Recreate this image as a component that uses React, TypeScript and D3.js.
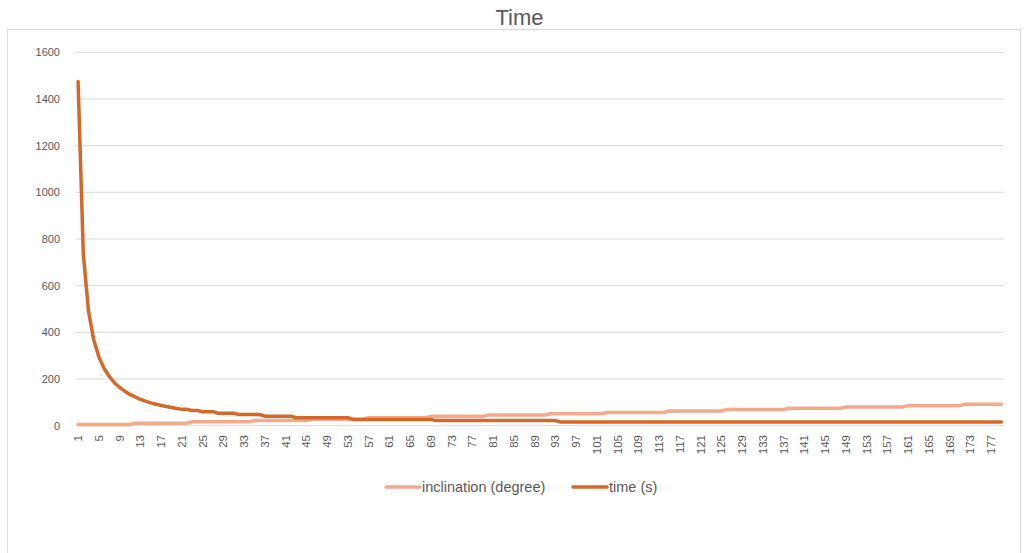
import React from 'react';
import * as d3 from 'd3';

const categories: number[] = d3.range(1, 180);

const inclination: number[] = [
  5, 5, 5, 5, 5, 5, 5, 5, 5, 5, 5,
  11, 11, 11, 11, 11, 11, 11, 11, 11, 11, 11,
  17, 17, 17, 17, 17, 17, 17, 17, 17, 17, 17, 17,
  22, 22, 22, 22, 22, 22, 22, 22, 22, 22, 22,
  28, 28, 28, 28, 28, 28, 28, 28, 28, 28, 28,
  34, 34, 34, 34, 34, 34, 34, 34, 34, 34, 34, 34,
  40, 40, 40, 40, 40, 40, 40, 40, 40, 40, 40,
  46, 46, 46, 46, 46, 46, 46, 46, 46, 46, 46, 46,
  51, 51, 51, 51, 51, 51, 51, 51, 51, 51, 51,
  57, 57, 57, 57, 57, 57, 57, 57, 57, 57, 57, 57,
  63, 63, 63, 63, 63, 63, 63, 63, 63, 63, 63,
  69, 69, 69, 69, 69, 69, 69, 69, 69, 69, 69, 69,
  75, 75, 75, 75, 75, 75, 75, 75, 75, 75, 75,
  80, 80, 80, 80, 80, 80, 80, 80, 80, 80, 80, 80,
  86, 86, 86, 86, 86, 86, 86, 86, 86, 86, 86,
  92, 92, 92, 92, 92, 92, 92, 92,
];

const time: number[] = [
  1475, 738, 492, 369, 295, 246, 211, 184, 164, 148,
  134, 123, 113, 105, 98, 92, 87, 82, 78, 74,
  70, 70, 65, 65, 60, 60, 60, 53, 53, 53, 53,
  48, 48, 48, 48, 48,
  41, 41, 41, 41, 41, 41,
  34, 34, 34, 34, 34, 34, 34, 34, 34, 34, 34,
  27, 27, 27, 27, 27, 27, 27, 27, 27, 27, 27, 27, 27, 27, 27, 27,
  22, 22, 22, 22, 22, 22, 22, 22, 22, 22, 22, 22,
  22, 22, 22, 22, 22, 22, 22, 22, 22, 22, 22, 22,
  16, 16, 16, 16, 16, 16, 16, 16, 16, 16,
  16, 16, 16, 16, 16, 16, 16, 16, 16, 16,
  16, 16, 16, 16, 16, 16, 16, 16, 16, 16,
  16, 16, 16, 16, 16, 16, 16, 16, 16, 16,
  16, 16, 16, 16, 16, 16, 16, 16, 16, 16,
  16, 16, 16, 16, 16, 16, 16, 16, 16, 16,
  16, 16, 16, 16, 16, 16, 16, 16, 16, 16,
  16, 16, 16, 16, 16, 16, 16, 16, 16, 16,
  16, 16, 16, 16, 16, 16,
];

const yTicks: number[] = [0, 200, 400, 600, 800, 1000, 1200, 1400, 1600];
const xTickLabels: number[] = categories.filter((c) => (c - 1) % 4 === 0);

const seriesNames = ['inclination (degree)', 'time (s)'];
const seriesColors = ['#F4A98A', '#D2692B'];

export default function App() {
  const W = 1029;
  const H = 553;
  const font = '"Liberation Sans", Arial, sans-serif';
  const textColor = '#595959';

  const x = d3.scaleBand<number>().domain(categories).range([75.5, 1004]);
  const cx = (c: number) => (x(c) as number) + x.bandwidth() / 2;
  const y = d3.scaleLinear().domain([0, 1600]).range([425.7, 52.3]);

  const line = d3
    .line<number>()
    .x((_, i) => cx(categories[i]))
    .y((d) => y(d));

  const series = [inclination, time];

  return (
    <svg
      width={W}
      height={H}
      style={{ position: 'absolute', left: 0, top: 0, background: '#fff' }}
    >
      <rect x={0} y={0} width={W} height={H} fill="#fff" />
      <rect x={7.5} y={29.5} width={1013} height={600} fill="none" stroke="#d9d9d9" strokeWidth={1} />
      <text
        x={519.5}
        y={25}
        textAnchor="middle"
        fontFamily={font}
        fontSize={22}
        fill={textColor}
      >
        Time
      </text>
      {yTicks.map((t) => (
        <g key={t}>
          <line x1={75.5} x2={1004} y1={y(t)} y2={y(t)} stroke="#d9d9d9" strokeWidth={1} />
          <text
            x={60}
            y={y(t)}
            dy="0.35em"
            textAnchor="end"
            fontFamily={font}
            fontSize={11}
            fill={textColor}
          >
            {t}
          </text>
        </g>
      ))}
      {xTickLabels.map((c) => (
        <text
          key={c}
          transform={`translate(${cx(c)},435) rotate(-90)`}
          dy="0.35em"
          textAnchor="end"
          fontFamily={font}
          fontSize={11.5}
          fill={textColor}
        >
          {c}
        </text>
      ))}
      {series.map((s, k) => (
        <path
          key={k}
          d={line(s) || ''}
          fill="none"
          stroke={seriesColors[k]}
          strokeWidth={3.5}
          strokeLinejoin="round"
          strokeLinecap="round"
        />
      ))}
      <g>
        <line x1={386} x2={420} y1={487} y2={487} stroke={seriesColors[0]} strokeWidth={3.5} strokeLinecap="round" />
        <text x={422} y={487} dy="0.35em" fontFamily={font} fontSize={14.5} fill={textColor}>
          {seriesNames[0]}
        </text>
        <line x1={573} x2={607} y1={487} y2={487} stroke={seriesColors[1]} strokeWidth={3.5} strokeLinecap="round" />
        <text x={609} y={487} dy="0.35em" fontFamily={font} fontSize={14.5} fill={textColor}>
          {seriesNames[1]}
        </text>
      </g>
    </svg>
  );
}
